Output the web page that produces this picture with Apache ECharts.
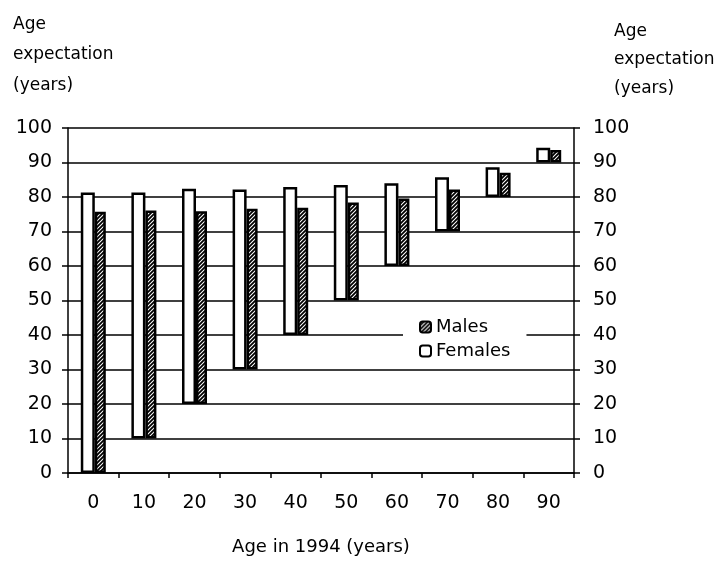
<!DOCTYPE html>
<html>
<head>
<meta charset="utf-8">
<script src="https://cdn.jsdelivr.net/npm/echarts@6/dist/echarts.min.js"></script>
<style>
  html, body { margin: 0; padding: 0; background: #fff; }
  #chart { width: 722px; height: 562px; }
</style>
</head>
<body>
<div id="chart"></div>
<script>
var ageLabels = ['0', '10', '20', '30', '40', '50', '60', '70', '80', '90'];
var ageStart = [0, 10, 20, 30, 40, 50, 60, 70, 80, 90];
var femaleExpect = [81.3, 81.3, 82.4, 82.2, 82.9, 83.5, 84.0, 85.7, 88.6, 94.3];
var maleExpect = [75.7, 76.1, 75.9, 76.6, 76.9, 78.4, 79.6, 82.2, 87.0, 93.6];
var yTicks = [0, 10, 20, 30, 40, 50, 60, 70, 80, 90, 100];

var FONT = 'DejaVu Sans';

// hatch fill for the male bars
var hatch = document.createElement('canvas');
hatch.width = 4;
hatch.height = 4;
var hctx = hatch.getContext('2d');
hctx.fillStyle = '#fff';
hctx.fillRect(0, 0, 4, 4);
hctx.strokeStyle = '#000';
hctx.lineWidth = 1.8;
hctx.beginPath();
hctx.moveTo(-1, 5); hctx.lineTo(5, -1);
hctx.moveTo(-1, 1); hctx.lineTo(1, -1);
hctx.moveTo(3, 5); hctx.lineTo(5, 3);
hctx.stroke();

// floating bars: transparent base up to the age, then the visible part
var femaleTop = femaleExpect.map(function (v, i) { return +(v - ageStart[i]).toFixed(2); });
var maleTop = maleExpect.map(function (v, i) { return +(v - ageStart[i]).toFixed(2); });

var chart = echarts.init(document.getElementById('chart'));

var yAxisCommon = {
  type: 'value',
  min: 0,
  max: 100,
  interval: 10,
  axisLine: { show: true, lineStyle: { color: '#000', width: 1.5 } },
  axisTick: { show: true, length: 6, lineStyle: { color: '#000', width: 1.5 } },
  axisLabel: { color: '#000', fontFamily: FONT, fontSize: 19 }
};

var option = {
  animation: false,
  backgroundColor: '#fff',
  grid: { left: 68, right: 148, top: 128, bottom: 89 },
  legend: {
    data: ['Males', 'Females'],
    orient: 'vertical',
    left: 403,
    top: 310,
    itemWidth: 11,
    itemHeight: 11,
    itemGap: 6,
    padding: [8, 16, 8, 16],
    backgroundColor: '#fff',
    textStyle: { color: '#000', fontFamily: FONT, fontSize: 18 }
  },
  graphic: [
    {
      type: 'text', left: 13, top: 9,
      style: { text: 'Age\nexpectation\n(years)', fill: '#000', font: '17px "DejaVu Sans"', lineHeight: 30.5 }
    },
    {
      type: 'text', left: 614, top: 17,
      style: { text: 'Age\nexpectation\n(years)', fill: '#000', font: '17px "DejaVu Sans"', lineHeight: 28.5 }
    }
  ],
  xAxis: {
    type: 'category',
    data: ageLabels,
    name: 'Age in 1994 (years)',
    nameLocation: 'middle',
    nameGap: 65,
    nameTextStyle: { color: '#000', fontFamily: FONT, fontSize: 18 },
    axisLine: { lineStyle: { color: '#000', width: 1.5 } },
    axisTick: { show: true, interval: 0, length: 5, lineStyle: { color: '#000', width: 1.5 } },
    axisLabel: { color: '#000', fontFamily: FONT, fontSize: 19, margin: 21, interval: 0 }
  },
  yAxis: [
    Object.assign({}, yAxisCommon, {
      position: 'left',
      splitLine: { show: true, lineStyle: { color: '#000', width: 1.5 } },
      axisLabel: Object.assign({}, yAxisCommon.axisLabel, { margin: 16 })
    }),
    Object.assign({}, yAxisCommon, {
      position: 'right',
      splitLine: { show: false },
      axisLabel: Object.assign({}, yAxisCommon.axisLabel, { margin: 19 })
    })
  ],
  series: [
    {
      name: 'femaleBase', type: 'bar', stack: 'f', barWidth: 14,
      data: ageStart, silent: true,
      itemStyle: { color: 'transparent', borderWidth: 0 }
    },
    {
      name: 'Females', type: 'bar', stack: 'f', barWidth: 14,
      data: femaleTop,
      itemStyle: { color: '#fff', borderColor: '#000', borderWidth: 2.5 }
    },
    {
      name: 'maleBase', type: 'bar', stack: 'm', barWidth: 11,
      data: ageStart, silent: true,
      itemStyle: { color: 'transparent', borderWidth: 0 }
    },
    {
      name: 'Males', type: 'bar', stack: 'm', barWidth: 11, barGap: '0%',
      data: maleTop,
      itemStyle: { color: { image: hatch, repeat: 'repeat' }, borderColor: '#000', borderWidth: 2.5 }
    }
  ]
};

chart.setOption(option);
</script>
</body>
</html>
